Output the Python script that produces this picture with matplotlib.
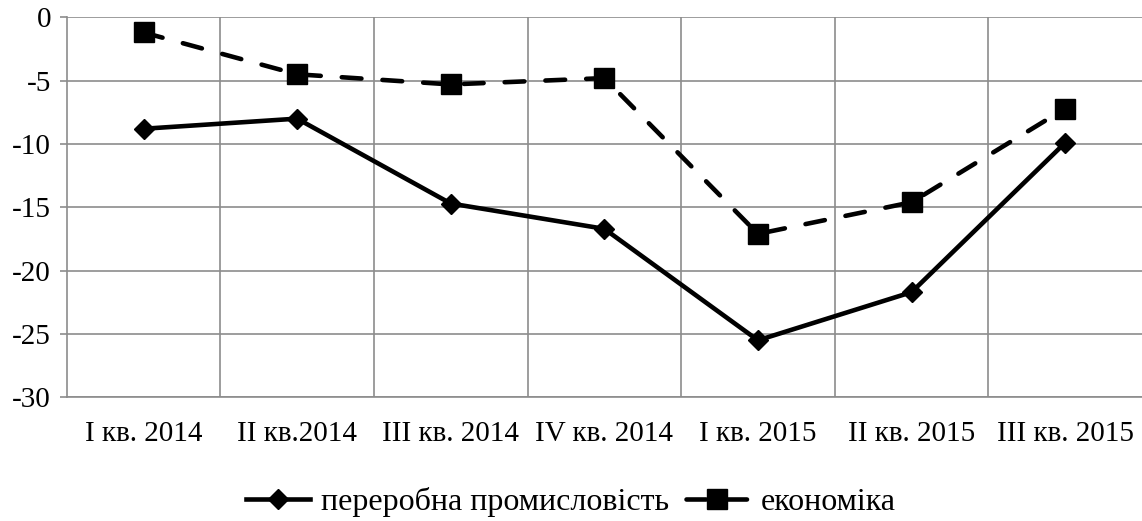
import numpy as np
import matplotlib.pyplot as plt
from matplotlib.ticker import FixedLocator

plt.rcParams['font.family'] = ['Liberation Serif', 'DejaVu Serif']

quarters = ['I кв. 2014', 'II кв.2014', 'III кв. 2014', 'IV кв. 2014',
            'I кв. 2015', 'II кв. 2015', 'III кв. 2015']
manufacturing = [-8.8, -8.0, -14.7, -16.7, -25.5, -21.7, -9.9]
economy = [-1.2, -4.5, -5.3, -4.8, -17.1, -14.6, -7.2]

GRID = '#8c8c8c'
FS = 21

fig = plt.figure(figsize=(11.42, 5.21), dpi=100)
ax = fig.add_axes([0.0584, 0.2374, 0.9416, 0.7294])

x = np.arange(len(quarters))

ax.plot(x, manufacturing, color='black', linewidth=3.3, marker='D',
        markersize=10.5, label='переробна промисловість', zorder=3)
ax.plot(x, economy, color='black', linewidth=3.3, marker='s',
        markersize=14, label='економіка', zorder=3,
        linestyle=(0, (4.3, 4.6)), dash_capstyle='round')

ax.set_xlim(-0.5, len(quarters) - 0.5)
ax.set_ylim(-30, 0)
ax.set_yticks(np.arange(-30, 1, 5))
ax.set_yticklabels([str(v) for v in range(-30, 1, 5)])

ax.set_xticks(x)
ax.set_xticklabels(quarters)
ax.xaxis.set_minor_locator(FixedLocator(x[:-1] + 0.5))

ax.grid(axis='y', which='major', color=GRID, linewidth=1.2)
ax.grid(axis='x', which='minor', color=GRID, linewidth=1.2)
ax.set_axisbelow(True)

for side in ['top', 'right']:
    ax.spines[side].set_visible(False)
for side in ['left', 'bottom']:
    ax.spines[side].set_color(GRID)
    ax.spines[side].set_linewidth(1.2)

ax.tick_params(axis='y', length=5.3, width=1.2, color=GRID, labelsize=FS, pad=6)
ax.tick_params(axis='x', which='both', length=0, labelsize=FS, pad=17)

fig.legend(loc='center', bbox_to_anchor=(0.5, 0.037), ncol=2, frameon=False,
           fontsize=23, handlelength=2.0, handletextpad=0.35, columnspacing=0.5)

fig.savefig('out.png', dpi=100)
